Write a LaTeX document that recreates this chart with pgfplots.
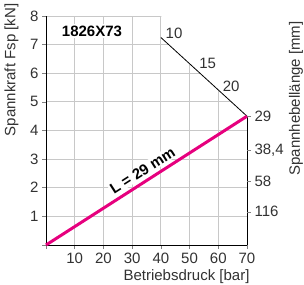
\documentclass[border=0pt]{standalone}
\usepackage{fontspec}
\setmainfont{Liberation Sans}
\usepackage{pgfplots}
\pgfplotsset{compat=1.18}
\definecolor{mag}{RGB}{230,0,126}
\definecolor{txt}{RGB}{50,50,50}
\definecolor{gridc}{RGB}{200,200,200}
\newcommand\f{\fontsize{15bp}{18bp}\selectfont}
\begin{document}
\begin{tikzpicture}
\begin{axis}[
 scale only axis, width=201bp, height=229bp,
 xmin=0, xmax=70, ymin=0, ymax=8,
 axis x line*=bottom, axis y line*=left,
 axis line style={black, line width=0.9bp, -},
 xtick={0,10,...,70}, xticklabels={{},10,20,30,40,50,60,70},
 ytick={0,...,8}, yticklabels={{},1,2,3,4,5,6,7,8},
 tick align=outside, major tick length=4bp,
 tick style={gray, line width=0.6bp},
 grid=major, grid style={gridc, line width=0.9bp},
 /pgf/number format/assume math mode=true,
 tick label style={font=\f, text=txt},
 label style={font=\f, text=txt},
 xlabel={Betriebsdruck [bar]},
 xlabel style={at={(axis description cs:0.699,-0.153)}, anchor=base},
 ylabel={Spannkraft Fsp [kN]},
 ylabel style={at={(axis description cs:-0.172,0.764)}, anchor=center},
 clip=false,
]
\addplot[draw=none, fill=white] coordinates {(40.2,8.4) (40.2,7.25) (70,4.5) (72,4.5) (72,8.4)} -- cycle;
\addplot[black, line width=0.8bp] coordinates {(40,7.25) (70,4.5)};
\addplot[black, line width=0.9bp] coordinates {(70,0) (70,4.5)};
\addplot[mag, line width=3bp] coordinates {(0,0) (70,4.5)};
\node[font=\f\bfseries, fill=white, inner sep=2bp, text=black] at (axis cs:16,7.48) {1826X73};
\node[font=\f\bfseries, text=black, fill=white, inner sep=1bp, rotate=32.7] at (axis cs:33.6,2.6) {L = 29 mm};
\node[font=\f, text=txt] at (axis cs:44.6,7.41) {10};
\node[font=\f, text=txt] at (axis cs:56.3,6.33) {15};
\node[font=\f, text=txt] at (axis cs:64.5,5.54) {20};
\end{axis}
\begin{axis}[
 scale only axis, width=201bp, height=229bp,
 xmin=0, xmax=70, ymin=0, ymax=8,
 axis x line=none, axis y line*=right, axis line style={draw=none},
 ytick={4.5,3.3,2.24,1.16}, yticklabels={29,{38,4},58,116},
 tick align=outside, major tick length=4bp, tick style={gray, line width=0.6bp},
 tick label style={font=\f, text=txt},
 ylabel={Spannhebellänge [mm]},
 ylabel style={font=\f, text=txt, at={(axis description cs:1.244,0.640)}, anchor=center},
]
\end{axis}
\pgfresetboundingbox
\path[use as bounding box] ([shift={(-46bp,-39bp)}]current axis.south west) rectangle ([shift={(57bp,16bp)}]current axis.north east);
\end{tikzpicture}
\end{document}
